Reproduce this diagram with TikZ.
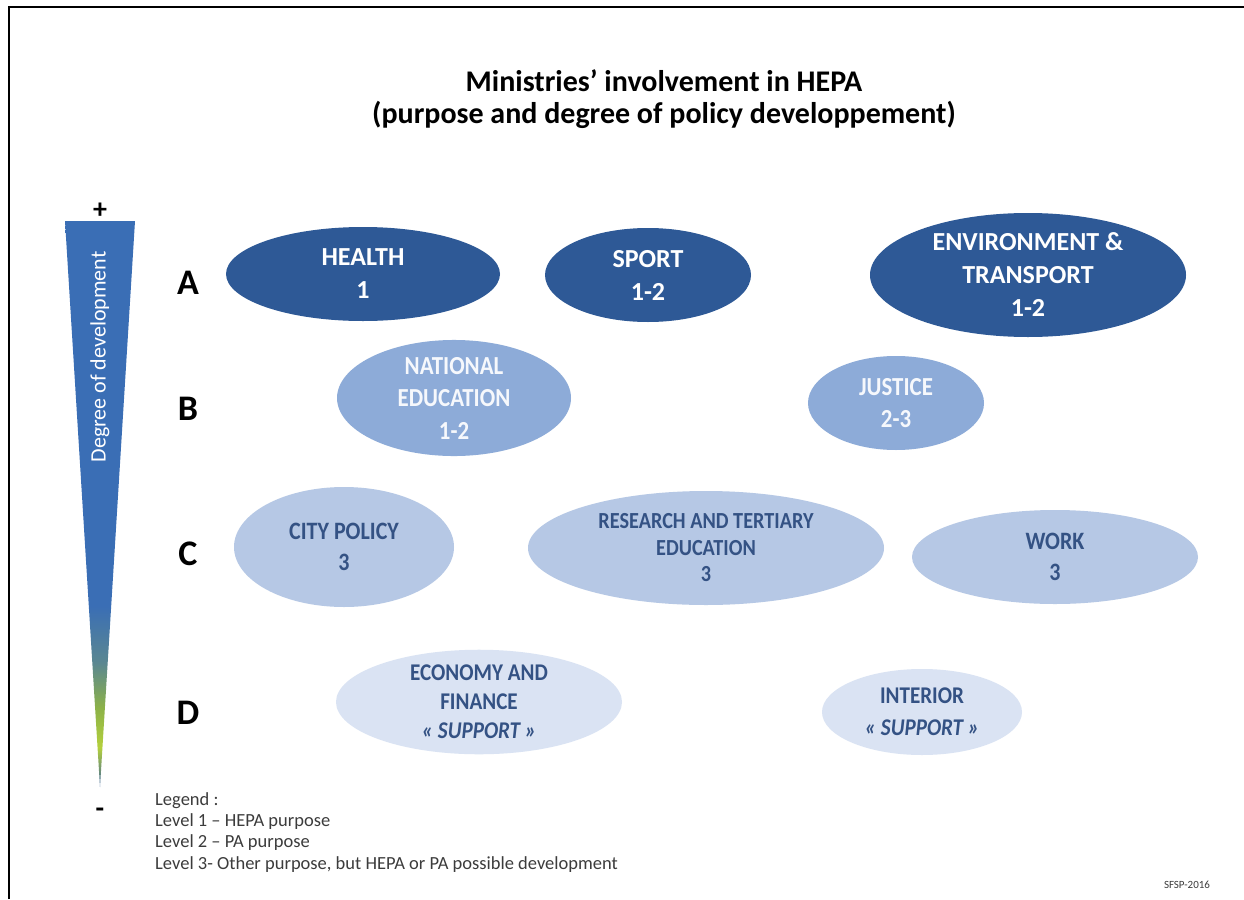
\documentclass[tikz,border=0pt]{standalone}
\usepackage{fontspec}
\setmainfont{Carlito}
\newfontfamily\condfont[FakeStretch=0.88]{Carlito}
\usetikzlibrary{shapes.geometric}
\definecolor{dkblue}{RGB}{46,89,150}
\definecolor{mdblue}{RGB}{141,171,216}
\definecolor{ltblue}{RGB}{182,200,229}
\definecolor{pale}{RGB}{218,227,243}
\definecolor{txtblue}{RGB}{52,82,132}
\definecolor{legend}{RGB}{60,60,60}
\definecolor{coneA}{RGB}{60,100,160}
\definecolor{coneB}{RGB}{180,208,60}
\definecolor{coneC}{RGB}{140,178,72}
\definecolor{coneD}{RGB}{90,135,145}
\definecolor{coneE}{RGB}{58,110,181}
\pgfdeclareverticalshading{cone}{100bp}{color(0bp)=(coneA);
 color(25bp)=(coneA);
 color(28.5bp)=(coneB);
 color(32bp)=(coneC);
 color(36bp)=(coneD);
 color(41bp)=(coneE);
 color(75bp)=(coneE);
 color(100bp)=(coneE)}
\tikzset{
 blob/.style={ellipse, inner sep=0pt, align=center},
 lvA/.style={blob, fill=dkblue, text=white, font=\fontsize{26}{33}\selectfont\bfseries},
 lvB/.style={blob, fill=mdblue, text=white!92!mdblue, font=\condfont\fontsize{26}{32.5}\selectfont\bfseries},
 lvC/.style={blob, fill=ltblue, text=txtblue, font=\condfont\fontsize{25}{31}\selectfont\bfseries},
 lvD/.style={blob, fill=pale, text=txtblue, font=\condfont\fontsize{25}{30}\selectfont\bfseries},
 rowlab/.style={font=\fontsize{36}{40}\selectfont\bfseries, text=black},
 leg/.style={anchor=west, inner sep=0pt, text=legend, font=\fontsize{18.5}{21}\selectfont}
}
\begin{document}
\begin{tikzpicture}[x=1pt,y=-1pt]
\useasboundingbox (0,0) rectangle (1244,899);
\fill[white] (0,0) rectangle (1244,899);
% frame
\draw[line width=2pt] (9,899) -- (9,7) -- (1244,7);
% title
\node[align=center, font=\fontsize{30}{32}\selectfont\bfseries] (title) at (664,99)
 {Ministries’ involvement in HEPA\\(purpose and degree of policy developpement)};
% cone
\begin{scope}
\clip (65,221) -- (135,221) -- (100,787) -- cycle;
\shade[shading=cone] (60,221) rectangle (140,787);
\end{scope}
\node[rotate=90, text=white, font=\fontsize{22}{24}\selectfont] (deg) at (100,357) {Degree of development};
\node[font=\fontsize{28}{30}\selectfont\bfseries] (plus) at (100,211) {+};
\node[font=\fontsize{28}{30}\selectfont\bfseries] (minus) at (100,813) {-};
% row labels
\node[rowlab] (rA) at (188,283) {A};
\node[rowlab] (rB) at (188,409) {B};
\node[rowlab] (rC) at (188,554) {C};
\node[rowlab] (rD) at (188,713) {D};
% row A
\node[lvA, minimum width=274, minimum height=94] (health) at (363,274) {HEALTH\\1};
\node[lvA, minimum width=206, minimum height=94] (sport) at (648,275) {SPORT\\1-2};
\node[lvA, minimum width=316, minimum height=124] (env) at (1028,275) {ENVIRONMENT \&\\TRANSPORT\\1-2};
% row B
\node[lvB, minimum width=234, minimum height=104] (nated) at (454,398) {NATIONAL\\EDUCATION\\1-2};
\node[lvB, minimum width=176, minimum height=94] (justice) at (896,403) {JUSTICE\\2-3};
% row C
\node[lvC, minimum width=220, minimum height=120] (city) at (344,547) {CITY POLICY\\3};
\node[lvC, minimum width=356, minimum height=114, font=\condfont\fontsize{23}{26.5}\selectfont\bfseries] (research) at (706,548) {RESEARCH AND TERTIARY\\EDUCATION\\3};
\node[lvC, minimum width=286, minimum height=94] (work) at (1055,557) {WORK\\3};
% row D
\node[lvD, minimum width=286, minimum height=104, font=\condfont\fontsize{24}{29}\selectfont\bfseries] (econ) at (479,702) {ECONOMY AND\\FINANCE\\\textit{« SUPPORT »}};
\node[lvD, minimum width=200, minimum height=86, font=\condfont\fontsize{24}{32}\selectfont\bfseries] (interior) at (922,712) {INTERIOR\\\textit{« SUPPORT »}};
% legend
\node[leg] (l0) at (155,801) {Legend :};
\node[leg] (l1) at (155,822) {Level 1 – HEPA purpose};
\node[leg] (l2) at (155,843) {Level 2 – PA purpose};
\node[leg] (l3) at (155,865) {Level 3- Other purpose, but HEPA or PA possible development};
\node[text=legend, font=\fontsize{11}{12}\selectfont] (sfsp) at (1187,885) {SFSP-2016};
\end{tikzpicture}
\end{document}
